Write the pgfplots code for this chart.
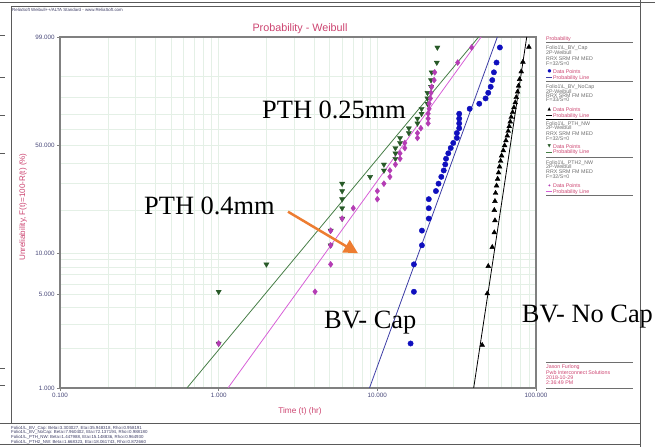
\documentclass[border=0pt]{standalone}
\usepackage{pgfplots}
\pgfplotsset{compat=1.18}
\usepackage{pgfplotstable}
\usepackage{fontspec}
\setmainfont{Liberation Sans}
\newfontfamily\serifF{Liberation Serif}
\newfontfamily\symF{DejaVu Sans}
\usetikzlibrary{arrows.meta}
\definecolor{pinkT}{RGB}{204,68,112}
\definecolor{tickc}{RGB}{70,70,120}
\definecolor{gridc}{RGB}{228,240,230}
\definecolor{axisgray}{RGB}{128,128,128}
\definecolor{framec}{RGB}{90,90,90}
\definecolor{cBlue}{RGB}{15,15,190}
\definecolor{lBlue}{RGB}{60,60,165}
\definecolor{cGreen}{RGB}{40,90,40}
\definecolor{lGreen}{RGB}{70,125,70}
\definecolor{cMag}{RGB}{180,60,180}
\definecolor{lMag}{RGB}{215,95,215}
\definecolor{cOr}{RGB}{237,125,49}
\definecolor{legT}{RGB}{110,110,110}
\definecolor{footT}{RGB}{60,60,100}

% BV Cap (time, median rank %)
\pgfplotstableread{
t F
16.2 2.16
17.0 5.25
17.0 8.33
19.1 11.42
19.1 14.51
21.1 17.59
21.1 20.68
21.1 23.77
23.4 26.85
24.3 29.94
25.3 33.02
26.2 36.11
26.8 39.20
27.1 42.28
28.0 45.37
29.0 48.46
30.1 51.54
31.7 54.63
31.7 57.72
32.8 60.80
32.8 63.89
32.8 66.98
32.8 70.06
38.2 73.15
43.9 76.23
48.1 79.32
50.0 82.41
51.8 85.49
53.0 88.58
54.3 91.67
56.4 94.75
59.2 97.84
}\bvcap
% BV NoCap
\pgfplotstableread{
t F
45.8 2.10
49.3 5.09
50.0 8.08
53.0 11.08
54.6 14.07
55.1 17.07
54.6 20.06
55.1 23.05
55.6 26.05
56.4 29.04
57.3 32.04
58.1 35.03
58.9 38.02
59.8 41.02
60.7 44.01
62.2 47.01
63.4 50.00
64.6 52.99
65.9 55.99
66.8 58.98
67.8 61.98
68.8 64.97
69.8 67.96
71.2 70.96
72.6 73.95
74.0 76.95
75.1 79.94
76.5 82.93
77.6 85.93
78.8 88.92
80.7 91.92
82.7 94.91
90.2 97.90
}\bvnocap
% PTH NW
\pgfplotstableread{
t F
1.0 2.16
1.0 5.25
2.0 8.33
5.08 11.42
5.08 14.51
6.0 17.59
6.0 20.68
6.0 23.77
6.0 26.85
6.0 29.94
9.0 33.02
11.0 36.11
11.0 39.20
13.0 42.28
13.0 45.37
13.0 48.46
13.9 51.54
13.9 54.63
15.8 57.72
15.8 60.80
17.9 63.89
17.9 66.98
19.0 70.06
19.0 73.15
20.7 76.23
20.7 79.32
20.7 82.41
21.8 85.49
21.8 88.58
22.0 91.67
23.7 94.75
23.9 97.84
}\pthnw
% PTH2 NW
\pgfplotstableread{
t F
1.0 2.16
4.05 5.25
5.08 8.33
5.08 11.42
5.08 14.51
6.0 17.59
7.05 20.68
10.0 23.77
10.0 26.85
11.0 29.94
12.0 33.02
12.0 36.11
13.0 39.20
13.9 42.28
13.9 45.37
14.9 48.46
14.9 51.54
17.9 54.63
17.9 57.72
18.8 60.80
20.9 63.89
20.9 66.98
20.9 70.06
21.2 73.15
21.2 76.23
21.6 79.32
21.8 82.41
22.0 85.49
22.8 88.58
23.0 91.67
32.1 94.75
39.3 97.84
}\pthtwo
% fitted probability lines: end points at F=1% and F=99%
\pgfplotstableread{
t F
8.929 1
57.07 99
}\lbvcap
\pgfplotstableread{
t F
40.48 1
87.40 99
}\lbvnocap
\pgfplotstableread{
t F
0.6319 1
43.49 99
}\lpthnw
\pgfplotstableread{
t F
1.1462 1
45.11 99
}\lpthtwo

\begin{document}
\begin{tikzpicture}[x=1bp,y=1bp]
\path[use as bounding box] (0,0) rectangle (655,447);
% frame
\draw[framec, line width=0.6] (0,445) -- (655,445);
\draw[framec, line width=0.6] (11,440.5) -- (641,440.5);
\draw[framec, line width=0.8] (11,440.5) -- (11,24);
\draw[framec, line width=0.8] (640.7,447) -- (640.7,0);
\draw[framec, line width=0.6] (0,24) -- (641,24);
\draw[framec, line width=0.6] (0,3) -- (641,3);
\foreach \yy in {412,370,332,294,79,62} \draw[framec, line width=0.6] (0,\yy) -- (5,\yy);
\node[anchor=west, inner sep=0, text=footT, font=\fontsize{4.4}{5}\selectfont] at (12,437.5) {ReliaSoft Weibull++/ALTA Standard - www.ReliaSoft.com};

\begin{axis}[
  at={(60bp,59bp)}, anchor=south west, scale only axis,
  width=476bp, height=351bp,
  xmode=log, xmin=0.1, xmax=100, ymin=-4.60015, ymax=1.52718,
  xtick={0.1,1,10,100}, xticklabels={0.100,1.000,10.000,100.000},
  minor xtick={0.2,0.3,0.4,0.5,0.6,0.7,0.8,0.9,2,3,4,5,6,7,8,9,20,30,40,50,60,70,80,90},
  ytick={-4.60015,-2.97020,-2.25037,-0.36651,1.52718},
  yticklabels={1.000,5.000,10.000,50.000,99.000},
  minor ytick={-3.90194,-3.49137,-3.19853,-2.78263,-2.62319,-2.48433,-2.36116,-1.49994,-1.03093,-0.67173,-0.08742,0.18563,0.47588,0.83403},
  grid=both,
  major grid style={draw=gridc, line width=0.5},
  minor grid style={draw=gridc, line width=0.5},
  axis line style={draw=axisgray, line width=1.3},
  tick align=outside, major tick length=3bp, minor tick length=0pt,
  xtick pos=left, ytick pos=left,
  tick style={draw=axisgray, line width=0.6},
  tick label style={font=\fontsize{6.3}{7}\selectfont, text=tickc},
  xticklabel style={yshift=1bp},
  yticklabel style={xshift=1bp},
]
\addplot[lBlue, line width=0.8] table[x=t, y expr={ln(-ln(1-\thisrow{F}/100))}] {\lbvcap};
\addplot[black, line width=0.8] table[x=t, y expr={ln(-ln(1-\thisrow{F}/100))}] {\lbvnocap};
\addplot[lGreen, line width=0.8] table[x=t, y expr={ln(-ln(1-\thisrow{F}/100))}] {\lpthnw};
\addplot[lMag, line width=0.8] table[x=t, y expr={ln(-ln(1-\thisrow{F}/100))}] {\lpthtwo};
\addplot[only marks, mark=*, mark size=2.7, cBlue] table[x=t, y expr={ln(-ln(1-\thisrow{F}/100))}] {\bvcap};
\addplot[only marks, mark=triangle*, mark size=2.8, black] table[x=t, y expr={ln(-ln(1-\thisrow{F}/100))}] {\bvnocap};
\addplot[only marks, mark=triangle*, mark size=3.0, cGreen, mark options={rotate=180}] table[x=t, y expr={ln(-ln(1-\thisrow{F}/100))}] {\pthnw};
\addplot[only marks, mark=diamond*, mark size=3.0, cMag] table[x=t, y expr={ln(-ln(1-\thisrow{F}/100))}] {\pthtwo};
\end{axis}

% titles
\node[text=pinkT, font=\fontsize{10.8}{12}\selectfont] at (300,418) {Probability - Weibull};
\node[text=pinkT, font=\fontsize{8.3}{9}\selectfont] at (300,36) {Time (t) (hr)};
\node[text=pinkT, font=\fontsize{8.1}{9}\selectfont, rotate=90] at (23,240) {Unreliability, F(t)=100-R(t) (\%)};

% legend panel
\begin{scope}[every node/.style={anchor=west, inner sep=0, font=\fontsize{5.3}{6}\selectfont}]
\node[text=pinkT] at (546,407.7) {Probability};
\draw[legT, line width=0.8] (546,404.3) -- (633,404.3);
\node[text=legT] at (546,398.7) {Folio1\textbackslash L\_BV\_Cap};
\node[text=legT] at (546,394.3) {2P-Weibull};
\node[text=legT] at (546,388.3) {RRX SRM FM MED};
\node[text=legT] at (546,383.7) {F=32/S=0};
\node[text=cBlue, font=\symF\fontsize{4.5}{5}\selectfont] at (547.5,375.3) {●};
\node[text=pinkT] at (553,375.3) {Data Points};
\draw[lBlue, line width=0.7] (546,369.3) -- (551.5,369.3);
\node[text=pinkT] at (553,369.3) {Probability Line};
\draw[legT, line width=0.8] (546,366) -- (633,366);
\node[text=legT] at (546,360.3) {Folio1\textbackslash L\_BV\_NoCap};
\node[text=legT] at (546,355.7) {2P-Weibull};
\node[text=legT] at (546,351) {RRX SRM FM MED};
\node[text=legT] at (546,347) {F=33/S=0};
\node[text=black, font=\symF\fontsize{4.5}{5}\selectfont] at (547.5,337.7) {▲};
\node[text=pinkT] at (553,337.7) {Data Points};
\draw[black, line width=0.7] (546,331.3) -- (551.5,331.3);
\node[text=pinkT] at (553,331.3) {Probability Line};
\draw[black, line width=0.8] (546,328) -- (633,328);
\node[text=legT] at (546,323) {Folio1\textbackslash L\_PTH\_NW};
\node[text=legT] at (546,319) {2P-Weibull};
\node[text=legT] at (546,313.7) {RRX SRM FM MED};
\node[text=legT] at (546,308.7) {F=32/S=0};
\node[text=cGreen, font=\symF\fontsize{4.5}{5}\selectfont] at (547.5,300.3) {▼};
\node[text=pinkT] at (553,300.3) {Data Points};
\draw[lGreen, line width=0.7] (546,295) -- (551.5,295);
\node[text=pinkT] at (553,295) {Probability Line};
\draw[legT, line width=0.8] (546,289.7) -- (633,289.7);
\node[text=legT] at (546,284.3) {Folio1\textbackslash L\_PTH2\_NW};
\node[text=legT] at (546,280.3) {2P-Weibull};
\node[text=legT] at (546,275.3) {RRX SRM FM MED};
\node[text=legT] at (546,270.3) {F=32/S=0};
\node[text=cMag, font=\symF\fontsize{4.5}{5}\selectfont] at (547.5,261.3) {✦};
\node[text=pinkT] at (553,261.3) {Data Points};
\draw[lMag, line width=0.7] (546,255.3) -- (551.5,255.3);
\node[text=pinkT] at (553,255.3) {Probability Line};
\draw[legT, line width=0.8] (546,252) -- (633,252);
% author block
\draw[legT, line width=0.8] (546,84.7) -- (633,84.7);
\node[text=pinkT] at (546,80.3) {Jason Furlong};
\node[text=pinkT] at (546,74.7) {Pwb Interconnect Solutions};
\node[text=pinkT] at (546,69.3) {2018-10-29};
\node[text=pinkT] at (546,64.3) {2:36:49 PM};
\draw[legT, line width=0.8] (546,58.7) -- (633,58.7);
\end{scope}

% footer
\begin{scope}[every node/.style={anchor=west, inner sep=0, text=footT, font=\fontsize{4.4}{5}\selectfont}]
\node at (11,18.7) {Folio1\textbackslash L\_BV\_Cap: Beta=3.303027, Eta=35.948318, Rho=0.958191};
\node at (11,14.3) {Folio1\textbackslash L\_BV\_NoCap: Beta=7.960402, Eta=72.137194, Rho=0.988180};
\node at (11,9.7) {Folio1\textbackslash L\_PTH\_NW: Beta=1.447988, Eta=15.148836, Rho=0.964930};
\node at (11,5) {Folio1\textbackslash L\_PTH2\_NW: Beta=1.668323, Eta=18.061743, Rho=0.872660};
\end{scope}

% annotations
\begin{scope}[every node/.style={anchor=base west, inner sep=0, font=\serifF\fontsize{26.5}{28}\selectfont}]
\node at (262,328) {PTH 0.25mm};
\node at (144,232) {PTH 0.4mm};
\node at (324,118) {BV- Cap};
\node at (521.7,124) {BV- No Cap};
\end{scope}
\draw[cOr, line width=2.5, -{Triangle[length=14bp,width=14bp]}] (288,235.3) -- (358,193.7);
\end{tikzpicture}
\end{document}
